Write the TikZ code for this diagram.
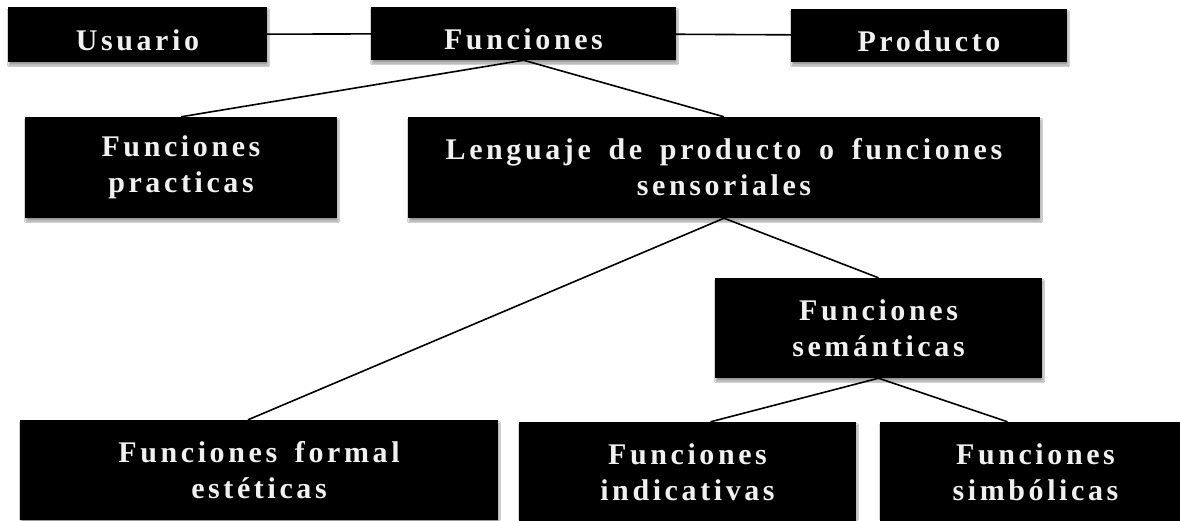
\documentclass[tikz,border=0pt]{standalone}
\usepackage{fontspec}
\newfontfamily\boxfont[LetterSpace=12, WordSpace=1.6]{Liberation Serif}
\usetikzlibrary{shadows.blur}
\definecolor{boxtext}{gray}{0.94}

\begin{document}
\begin{tikzpicture}[x=1pt, y=-1pt,
  funcbox/.style={rectangle, fill=black, text=boxtext, align=center, inner sep=0pt,
    font=\boxfont\bfseries\fontsize{30}{36}\selectfont,
    blur shadow={shadow xshift=1pt, shadow yshift=-3pt, shadow blur steps=6, shadow opacity=40}},
  onebox/.style={funcbox, text height=38pt, text depth=7pt}]
  \fill[white] (0,0) rectangle (1180,520);
  \useasboundingbox (0,0) rectangle (1180,520);
  \clip (0,0) rectangle (1180,520);
  \node[onebox, minimum width=259pt, minimum height=55pt] (usuario) at (137.5,34.5) {Usuario};
  \node[onebox, minimum width=305pt, minimum height=53pt] (funciones) at (523.5,33.5) {Funciones};
  \node[onebox, minimum width=276pt, minimum height=53pt] (producto) at (929,35.5) {Producto};
  \node[funcbox, minimum width=312pt, minimum height=101pt] (practicas) at (181,167.5) {Funciones\\practicas};
  \node[funcbox, minimum width=632pt, minimum height=101pt] (lenguaje) at (724,167.5) {Lenguaje de producto o funciones\\sensoriales};
  \node[funcbox, minimum width=327pt, minimum height=100pt] (semanticas) at (878.5,328) {Funciones\\semánticas};
  \node[funcbox, minimum width=478pt, minimum height=100pt] (formal) at (259,470) {Funciones formal\\estéticas};
  \node[funcbox, minimum width=337pt, minimum height=100pt] (indicativas) at (687.5,472) {Funciones\\indicativas};
  \node[funcbox, minimum width=311pt, minimum height=100pt] (simbolicas) at (1035.5,472) {Funciones\\simbólicas};
  \draw[black, line width=1.6pt] (usuario) -- (funciones);
  \draw[black, line width=1.6pt] (funciones) -- (producto);
  \draw[black, line width=1.6pt] (funciones.south) -- (practicas.north);
  \draw[black, line width=1.6pt] (funciones.south) -- (lenguaje.north);
  \draw[black, line width=1.6pt] (lenguaje.south) -- ([xshift=-11pt]formal.north);
  \draw[black, line width=1.6pt] (lenguaje.south) -- (semanticas.north);
  \draw[black, line width=1.6pt] (semanticas.south) -- ([xshift=23pt]indicativas.north);
  \draw[black, line width=1.6pt] (semanticas.south) -- ([xshift=-28pt]simbolicas.north);
\end{tikzpicture}
\end{document}
